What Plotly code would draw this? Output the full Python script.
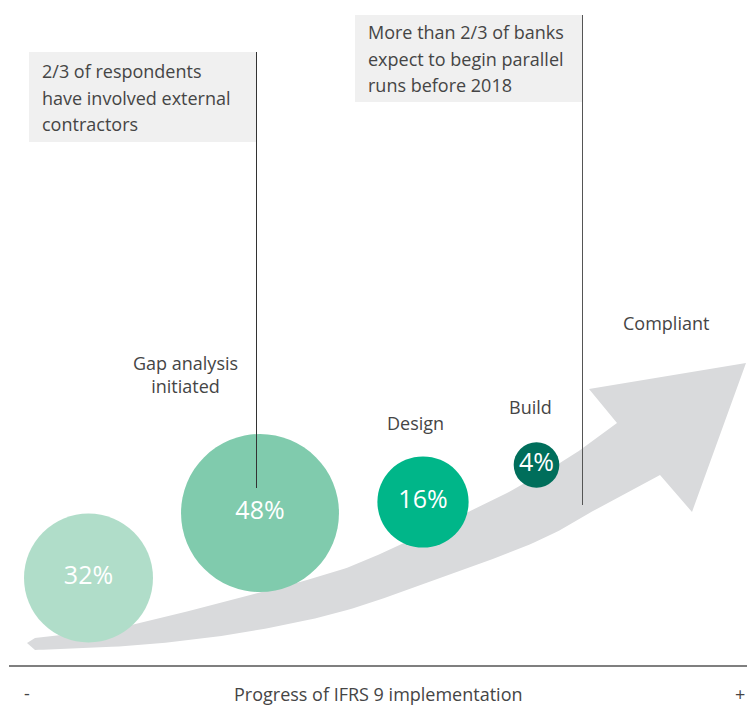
import plotly.graph_objects as go

# ---------------- data ----------------
stage_names = ["Not started", "Gap analysis initiated", "Design", "Build"]
stage_shares = [32, 48, 16, 4]
stage_labels = ["", "Gap analysis<br>initiated", "Design", "Build"]
final_stage = "Compliant"
note_left = ["2/3 of respondents", "have involved external", "contractors"]
note_right = ["More than 2/3 of banks", "expect to begin parallel", "runs before 2018"]
axis_title = "Progress of IFRS 9 implementation"
axis_ends = ["-", "+"]

# ---------------- layout (canvas units = px) ----------------
W, H = 747, 707
bubble_x = [88.5, 260, 423, 536.5]
bubble_y = [578, 513, 502, 465]
bubble_colors = ["#b0ddc9", "#80cbad", "#00b689", "#006e5b"]
label_pos = [None, (185, 374), (415, 423), (530, 407)]
final_pos = (666, 323)
TEXT = "#454545"
FONT = "Open Sans"


def catmull(pts, n=16):
    P = [pts[0]] + pts + [pts[-1]]
    out = []
    for i in range(1, len(P) - 2):
        p0, p1, p2, p3 = P[i - 1], P[i], P[i + 1], P[i + 2]
        for k in range(n):
            t = k / n
            pt = []
            for d in range(2):
                a, b, c, e = p0[d], p1[d], p2[d], p3[d]
                pt.append(0.5 * (2 * b + (-a + c) * t + (2 * a - 5 * b + 4 * c - e) * t * t
                                 + (-a + 3 * b - 3 * c + e) * t ** 3))
            out.append(tuple(pt))
    out.append(pts[-1])
    return out


top_edge = [(35, 638), (90, 632), (140, 623), (307, 580), (373, 557), (473, 510),
            (507, 493), (560, 463), (583, 448), (617, 423)]
bottom_edge = [(35, 650), (140, 645), (240, 633), (340, 612), (440, 578), (540, 540),
               (607, 503), (660, 475)]
head = [(589, 389), (746, 363), (692, 512)]
outline = [(27, 643)] + catmull(top_edge) + head + catmull(bottom_edge)[::-1] + [(27, 643)]

fig = go.Figure()

# arrow
fig.add_trace(go.Scatter(
    x=[p[0] for p in outline], y=[p[1] for p in outline],
    mode="lines", fill="toself", fillcolor="#d9dadc",
    line=dict(width=0, color="#d9dadc"), hoverinfo="skip", showlegend=False))

# note boxes + leader lines
shapes = [
    dict(type="rect", x0=29, x1=256, y0=52, y1=142, fillcolor="#f0f0f0", line_width=0, layer="below"),
    dict(type="rect", x0=355, x1=582.5, y0=15, y1=102, fillcolor="#f0f0f0", line_width=0, layer="below"),
    dict(type="line", x0=256.5, x1=256.5, y0=52, y1=488, line=dict(color="#333333", width=1)),
    dict(type="line", x0=582.5, x1=582.5, y0=15, y1=505, line=dict(color="#555555", width=1)),
    dict(type="line", x0=9, x1=747, y0=666, y1=666, line=dict(color="#555555", width=1.5)),
]

# bubbles (area-scaled)
fig.add_trace(go.Scatter(
    x=bubble_x, y=bubble_y, mode="markers+text",
    marker=dict(size=stage_shares, sizemode="area", sizeref=2 / 22.8 ** 2,
                color=bubble_colors, opacity=1, line=dict(width=0)),
    text=[f"{v}%" for v in stage_shares], textposition="middle center",
    textfont=dict(family=FONT, size=25, color="white"),
    customdata=stage_names, hovertemplate="%{customdata}: %{text}<extra></extra>",
    showlegend=False))

ann = []
for lab, pos in zip(stage_labels, label_pos):
    if lab and pos:
        ann.append(dict(x=pos[0], y=pos[1], text=lab, showarrow=False,
                        font=dict(family=FONT, size=18, color=TEXT), align="center"))
ann.append(dict(x=final_pos[0], y=final_pos[1], text=final_stage, showarrow=False,
                font=dict(family=FONT, size=18, color=TEXT)))
for i, line in enumerate(note_left):
    ann.append(dict(x=40, y=71 + 26.5 * i, text=line, showarrow=False, xanchor="left",
                    font=dict(family=FONT, size=18, color=TEXT)))
for i, line in enumerate(note_right):
    ann.append(dict(x=366, y=32 + 26.5 * i, text=line, showarrow=False, xanchor="left",
                    font=dict(family=FONT, size=18, color=TEXT)))
ann.append(dict(x=378, y=694, text=axis_title, showarrow=False,
                font=dict(family=FONT, size=18, color=TEXT)))
ann.append(dict(x=27, y=693, text=axis_ends[0], showarrow=False,
                font=dict(family=FONT, size=18, color=TEXT)))
ann.append(dict(x=740, y=694, text=axis_ends[1], showarrow=False,
                font=dict(family=FONT, size=18, color=TEXT)))

fig.update_layout(
    width=W, height=H, margin=dict(l=0, r=0, t=0, b=0),
    paper_bgcolor="white", plot_bgcolor="white",
    xaxis=dict(range=[0, W], visible=False, fixedrange=True),
    yaxis=dict(range=[H, 0], visible=False, fixedrange=True),
    shapes=shapes, annotations=ann,
)

fig.write_html("out.html", config={"displayModeBar": False},
               post_script="document.body.style.margin='0';document.body.style.overflow='hidden';")
